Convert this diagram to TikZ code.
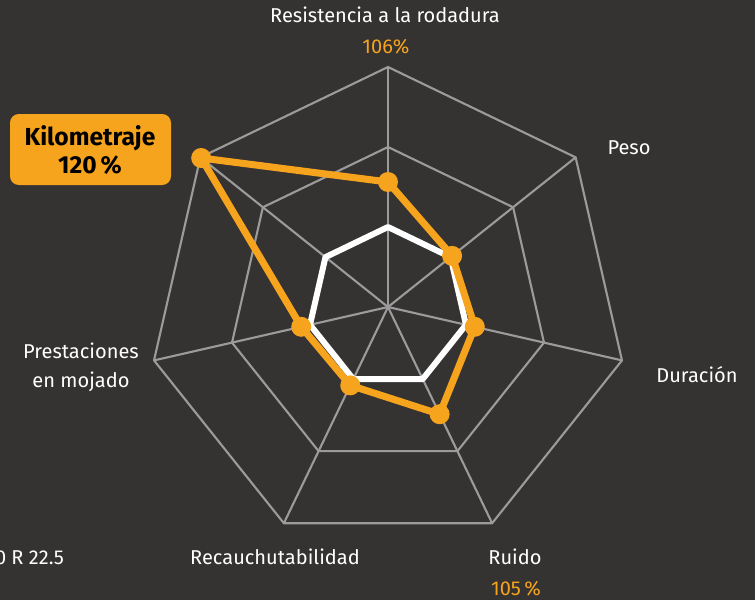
\documentclass[tikz,border=0pt]{standalone}
\usepackage{fontspec}
\setmainfont{Fira Sans}
\definecolor{fondo}{RGB}{53,50,50}
\definecolor{rejilla}{RGB}{155,155,155}
\definecolor{naranja}{RGB}{246,164,29}
\tikzset{
  eje/.style={draw=rejilla,line width=1.2pt},
  rotulo/.style={anchor=base,text=white,font=\fontsize{11.4}{14}\selectfont},
  valor/.style={anchor=base,text=naranja,font=\fontsize{11.4}{14}\selectfont},
  destacado/.style={anchor=base,font=\fontsize{14}{17}\selectfont\bfseries},
  punto/.style={circle,fill=naranja,inner sep=0pt,minimum size=0.4cm}
}
\begin{document}
\begin{tikzpicture}[x=0.02cm,y=0.02cm,line join=round,line cap=round]
	\def\R{240} % radio exterior
	% fondo
	\fill[fondo] (0,0) rectangle (755,600);
	\useasboundingbox (0,0) rectangle (755,600);
	\path (388,293) coordinate (O);
	% vertices de la rejilla
	\foreach \i in {0,...,6}{
		\path (O) ++({90-\i*360/7}:\R) coordinate (g3-\i)
		(O) ++({90-\i*360/7}:{2*\R/3}) coordinate (g2-\i)
		(O) ++({90-\i*360/7}:{\R/3}) coordinate (g1-\i);
	}
	% ejes y anillos
	\foreach \i in {0,...,6}{
		\draw[eje] (O)--(g3-\i);
	}
	\foreach \k in {1,2,3}{
		\draw[eje] (g\k-0)--(g\k-1)--(g\k-2)--(g\k-3)--(g\k-4)--(g\k-5)--(g\k-6)--cycle;
	}
	% referencia 100 %
	\draw[white,line width=3.4pt] (g1-0)--(g1-1)--(g1-2)--(g1-3)--(g1-4)--(g1-5)--(g1-6)--cycle;
	% valores del neumatico
	\foreach \r [count=\i from 0] in {125,82,89,119,87,89,239}{
		\path (O) ++({90-\i*360/7}:\r) coordinate (v\i);
	}
	\draw[naranja,line width=4pt] (v0)--(v1)--(v2)--(v3)--(v4)--(v5)--(v6)--cycle;
	\foreach \i in {0,...,6}{
		\node[punto] (p\i) at (v\i) {};
	}
	% rotulos
	\node[rotulo] (resist) at (385,578) {Resistencia a la rodadura};
	\node[valor] (resistv) at (386,547) {106\%};
	\node[rotulo] (peso) at (629,446) {Peso};
	\node[rotulo] (durac) at (697,218) {Duración};
	\node[rotulo] (ruido) at (515,36) {Ruido};
	\node[valor] (ruidov) at (516,5) {105\,\%};
	\node[rotulo] (recauch) at (275,36) {Recauchutabilidad};
	\node[rotulo] (prest) at (81,242) {Prestaciones};
	\node[rotulo] (mojado) at (81,213) {en mojado};
	\node[rotulo,anchor=base east] (medida) at (70,36) {0 R 22.5};
	% recuadro kilometraje
	\fill[naranja,rounded corners=5] (10,415) rectangle (171,486);
	\node[destacado] (kilo) at (90,455) {Kilometraje};
	\node[destacado] (kilov) at (90,427) {120\,\%};
\end{tikzpicture}
\end{document}
